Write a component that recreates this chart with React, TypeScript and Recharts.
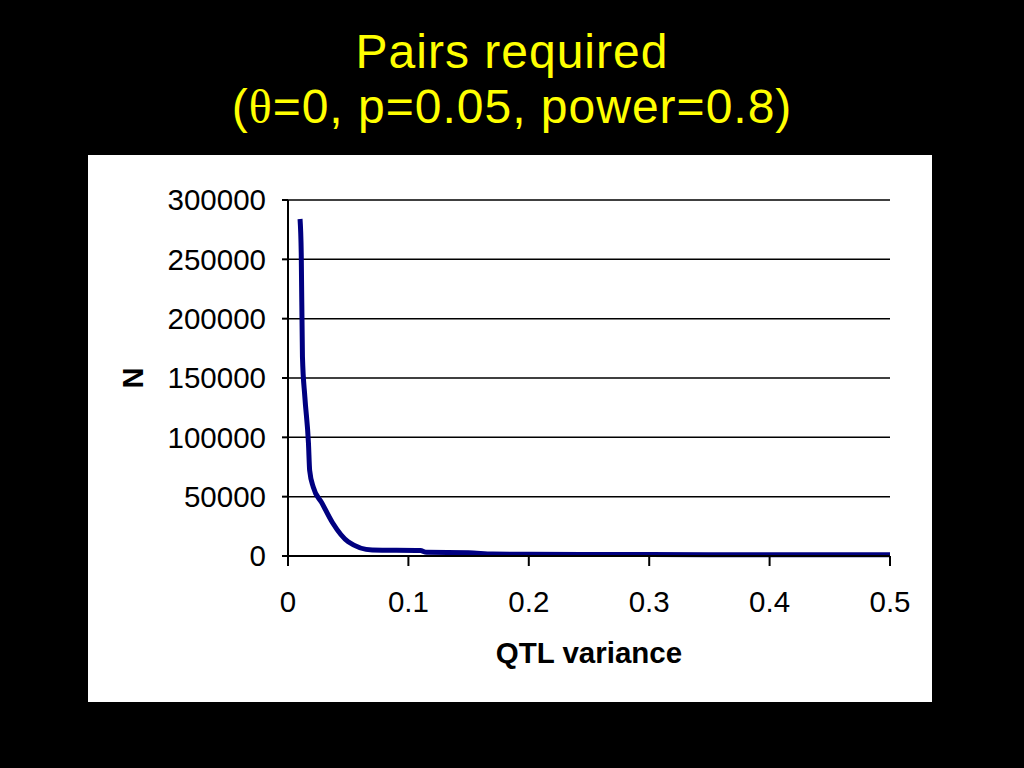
import { LineChart, Line, XAxis, YAxis, CartesianGrid, Label } from "recharts";

// values
const qtlVariance = [0.01, 0.011, 0.012, 0.014, 0.017, 0.018, 0.021, 0.028, 0.037, 0.05, 0.07, 0.11, 0.115, 0.15, 0.17, 0.2, 0.3, 0.4, 0.5];
const pairsN = [284000, 255000, 168000, 134000, 95000, 72000, 58000, 45000, 28000, 12000, 5000, 4600, 3100, 2800, 1600, 1400, 1200, 1100, 1000];

const xTicks = [0, 0.1, 0.2, 0.3, 0.4, 0.5];
const yTicks = [0, 50000, 100000, 150000, 200000, 250000, 300000];

const data = qtlVariance.map((v, i) => ({ v, n: pairsN[i] }));

const FONT = "'Liberation Sans', Arial, sans-serif";
const TICK_FONT = 29.5;

const App = () => {
    return (
        <div style={{ position: "absolute", left: 0, top: 0, width: 1024, height: 768, background: "#000", fontFamily: FONT }}>
            {/* Title */}
            <svg width={1024} height={150} style={{ position: "absolute", left: 0, top: 0 }}>
                <text x={512} y={68} textAnchor="middle" fontSize={48} letterSpacing={1} fill="#ffff00" fontFamily={FONT}>
                    Pairs required
                </text>
                <text x={512} y={123} textAnchor="middle" fontSize={48} letterSpacing={1} fill="#ffff00" fontFamily={FONT}>
                    (<tspan fontFamily="'Liberation Serif', 'DejaVu Serif', serif">θ</tspan>=0, p=0.05, power=0.8)
                </text>
            </svg>

            {/* Chart panel */}
            <div style={{ position: "absolute", left: 88, top: 155, width: 844, height: 547, background: "#fff" }}>
                <LineChart width={844} height={547} data={data} margin={{ top: 45, right: 42, bottom: 0, left: 0 }}>
                    <CartesianGrid horizontal vertical={false} stroke="#000" strokeWidth={1.5} />
                    <XAxis
                        dataKey="v"
                        type="number"
                        domain={[0, 0.5]}
                        ticks={xTicks}
                        height={146}
                        tickSize={10}
                        tickMargin={25}
                        axisLine={{ stroke: "#000", strokeWidth: 2 }}
                        tickLine={{ stroke: "#000", strokeWidth: 2 }}
                        tick={{ fill: "#000", fontSize: TICK_FONT, fontFamily: FONT }}
                    >
                        <Label value="QTL variance" position="insideBottom" offset={39} fill="#000" fontSize={29.5} fontWeight="bold" fontFamily={FONT} />
                    </XAxis>
                    <YAxis
                        type="number"
                        domain={[0, 300000]}
                        ticks={yTicks}
                        width={200}
                        tickSize={6}
                        tickMargin={16}
                        interval={0}
                        axisLine={{ stroke: "#000", strokeWidth: 2 }}
                        tickLine={{ stroke: "#000", strokeWidth: 2 }}
                        tick={{ fill: "#000", fontSize: TICK_FONT, fontFamily: FONT }}
                    >
                        <Label
                            content={() => (
                                <text x={45} y={223} transform="rotate(-90 45 223)" textAnchor="middle" dominantBaseline="central" fontSize={29} fontWeight="bold" fontFamily={FONT} fill="#000">
                                    N
                                </text>
                            )}
                        />
                    </YAxis>
                    <Line type="monotone" dataKey="n" stroke="#000080" strokeWidth={5} dot={false} isAnimationActive={false} />
                </LineChart>
            </div>
        </div>
    );
};

export default App;
